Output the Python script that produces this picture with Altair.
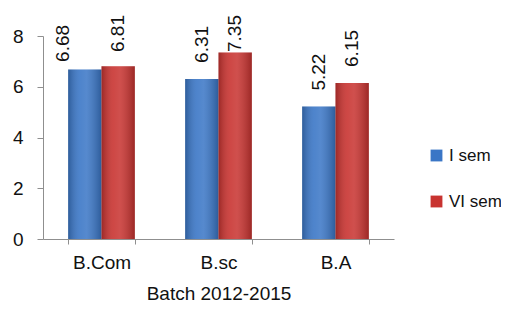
import altair as alt
import pandas as pd

categories = ["B.Com", "B.sc", "B.A"]
series = ["I sem", "VI sem"]
i_sem = [6.68, 6.31, 5.22]
vi_sem = [6.81, 7.35, 6.15]
colors = ["#3a76c6", "#c83330"]

rows = []
for c, a, b in zip(categories, i_sem, vi_sem):
    rows.append({"batch": c, "series": series[0], "value": a})
    rows.append({"batch": c, "series": series[1], "value": b})
df = pd.DataFrame(rows)

FONT = "Liberation Sans"

x_enc = alt.X(
    "batch:N",
    sort=categories,
    title="Batch 2012-2015",
    scale=alt.Scale(paddingInner=0.43, paddingOuter=0.215),
    axis=alt.Axis(labelAngle=0, tickBand="extent", tickSize=5, labelPadding=9,
                  titlePadding=12, domainColor="#8f8f8f", tickColor="#8f8f8f"),
)
xo_enc = alt.XOffset("series:N", sort=series,
                     scale=alt.Scale(paddingInner=0, paddingOuter=0))
y_scale = alt.Scale(domain=[0, 8], nice=False, zero=True)

base = alt.Chart(df)

bars = base.mark_bar().encode(
    x=x_enc,
    xOffset=xo_enc,
    y=alt.Y("value:Q", scale=y_scale, title=None,
            axis=alt.Axis(values=[0, 2, 4, 6, 8], grid=False, tickSize=6,
                          labelPadding=14, domainColor="#8f8f8f",
                          tickColor="#8f8f8f")),
    color=alt.Color("series:N", sort=series,
                    scale=alt.Scale(domain=series, range=colors),
                    legend=alt.Legend(title=None, orient="none", legendX=385,
                                      legendY=111, symbolType="square",
                                      symbolSize=140, rowPadding=28,
                                      labelOffset=4, padding=0,
                                      labelFont=FONT, labelFontSize=17,
                                      labelColor="#111111")),
)

shine = base.mark_bar(
    color=alt.LinearGradient(
        gradient="linear", x1=0, x2=1, y1=0, y2=0,
        stops=[
            alt.GradientStop(color="rgba(0,0,0,0.22)", offset=0),
            alt.GradientStop(color="rgba(255,255,255,0.10)", offset=0.35),
            alt.GradientStop(color="rgba(255,255,255,0.14)", offset=0.55),
            alt.GradientStop(color="rgba(0,0,0,0.22)", offset=1),
        ],
    )
).encode(x=x_enc, xOffset=xo_enc, y=alt.Y("value:Q", scale=y_scale))

label_common = dict(angle=270, align="left", baseline="middle", font=FONT,
                    fontSize=19, color="#111111")

labels = base.transform_filter(
    "!(datum.batch == 'B.Com' && datum.series == 'I sem')"
).transform_calculate(
    pos="min(datum.value + 0.63, 7.37)"
).mark_text(**label_common).encode(
    x=x_enc, xOffset=xo_enc,
    y=alt.Y("pos:Q", scale=y_scale),
    text=alt.Text("value:Q", format=".2f"),
)

label_moved = base.transform_filter(
    "datum.batch == 'B.Com' && datum.series == 'I sem'"
).transform_calculate(
    pos="datum.value + 0.3"
).mark_text(dy=-22, **label_common).encode(
    x=x_enc, xOffset=xo_enc,
    y=alt.Y("pos:Q", scale=y_scale),
    text=alt.Text("value:Q", format=".2f"),
)

chart = alt.layer(bars, shine, labels, label_moved).properties(
    width=351, height=203,
    autosize=alt.AutoSizeParams(type="none"),
    padding={"left": 35, "top": 28, "right": 107, "bottom": 64},
).configure_view(stroke=None).configure_axis(
    labelFont=FONT, labelFontSize=19, labelColor="#111111",
    titleFont=FONT, titleFontSize=19, titleColor="#111111",
    titleFontWeight="normal",
)

chart.save("out.html", embed_options={"renderer": "svg", "actions": False})
